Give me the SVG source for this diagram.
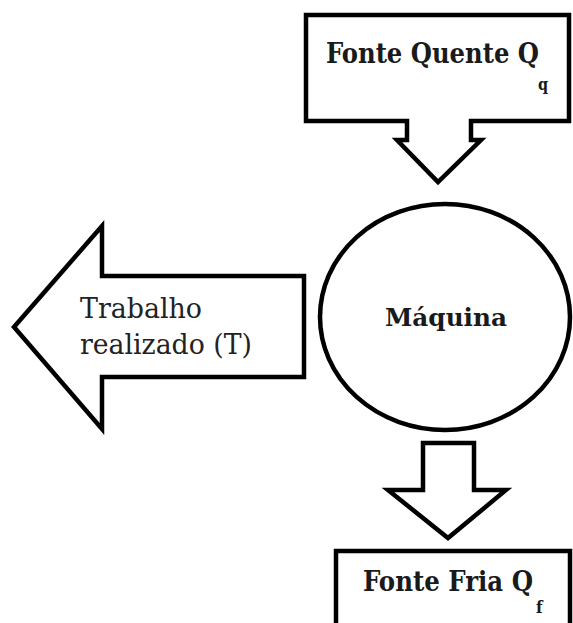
<svg xmlns="http://www.w3.org/2000/svg" width="573" height="623" viewBox="0 0 573 623">
<style>
.shape{fill:#fff;stroke:#000;stroke-width:4.5;stroke-linejoin:miter}
.b{font-family:"DejaVu Serif Condensed","DejaVu Serif",serif;font-weight:bold;fill:#1a1a1a}
.r{font-family:"DejaVu Serif Condensed","DejaVu Serif",serif;fill:#222}
</style>
<rect width="573" height="623" fill="#fff"/>
<g id="fonte-quente">
<path class="shape" d="M306,15 H569 V121 H471 V140 H481 L438,182 L397,140 H407 V121 H306 Z"/>
<text class="b" x="326" y="63" font-size="27" textLength="213" lengthAdjust="spacingAndGlyphs">Fonte Quente Q</text>
<text class="b" x="538" y="90" font-size="16">q</text>
</g>
<g id="trabalho">
<path class="shape" d="M14,327 L102,226 V276 H304 V377 H102 V429 Z"/>
<text class="r" x="80" y="318" font-size="27" textLength="122" lengthAdjust="spacingAndGlyphs">Trabalho</text>
<text class="r" x="80" y="354" font-size="27" textLength="172" lengthAdjust="spacingAndGlyphs">realizado (T)</text>
</g>
<g id="maquina">
<ellipse class="shape" cx="445" cy="317" rx="125" ry="113"/>
<text class="b" x="385" y="326" font-size="25" textLength="122" lengthAdjust="spacingAndGlyphs">Máquina</text>
</g>
<g id="connectors">
<path class="shape" d="M423,443 H474 V490 H506 L448,538 L388,490 H423 Z"/>
</g>
<g id="fonte-fria">
<path class="shape" d="M336,630 V551 H570 V630"/>
<text class="b" x="363" y="591" font-size="27" textLength="170" lengthAdjust="spacingAndGlyphs">Fonte Fria Q</text>
<text class="b" x="536" y="613" font-size="17">f</text>
</g>
</svg>
